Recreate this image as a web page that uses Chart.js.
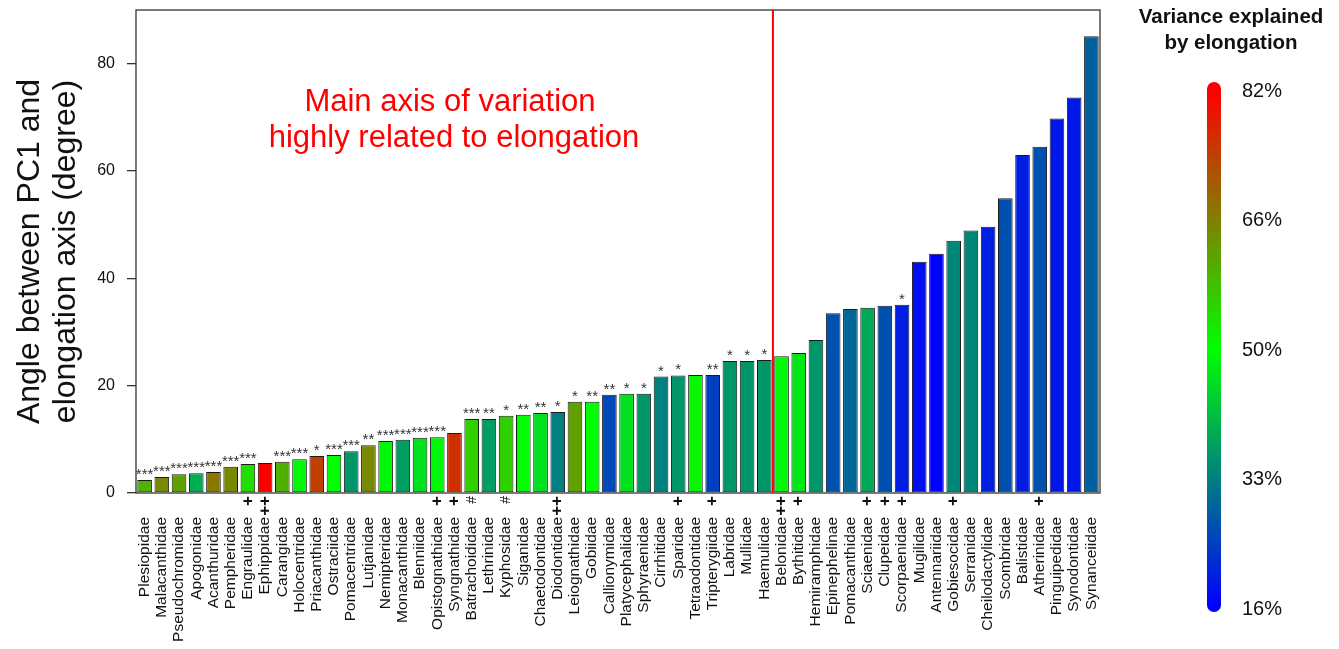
<!DOCTYPE html>
<html>
<head>
<meta charset="utf-8">
<script src="https://cdn.jsdelivr.net/npm/chart.js@4.4.1/dist/chart.umd.min.js"></script>
<style>
  html, body { margin: 0; padding: 0; background: #fff; }
  #wrap { width: 1339px; height: 649px; position: relative; }
</style>
</head>
<body>
<div id="wrap"><canvas id="angleChart"></canvas></div>
<script>
const families = [
  'Plesiopidae', 'Malacanthidae', 'Pseudochromidae', 'Apogonidae', 'Acanthuridae', 'Pempheridae',
  'Engraulidae', 'Ephippidae', 'Carangidae', 'Holocentridae', 'Priacanthidae', 'Ostraciidae',
  'Pomacentridae', 'Lutjanidae', 'Nemipteridae', 'Monacanthidae', 'Blenniidae', 'Opistognathidae',
  'Syngnathidae', 'Batrachoididae', 'Lethrinidae', 'Kyphosidae', 'Siganidae', 'Chaetodontidae',
  'Diodontidae', 'Leiognathidae', 'Gobiidae', 'Callionymidae', 'Platycephalidae', 'Sphyraenidae',
  'Cirrhitidae', 'Sparidae', 'Tetraodontidae', 'Tripterygiidae', 'Labridae', 'Mullidae',
  'Haemulidae', 'Belonidae', 'Bythitidae', 'Hemiramphidae', 'Epinephelinae', 'Pomacanthidae',
  'Sciaenidae', 'Clupeidae', 'Scorpaenidae', 'Mugilidae', 'Antennariidae', 'Gobiesocidae',
  'Serranidae', 'Cheilodactylidae', 'Scombridae', 'Balistidae', 'Atherinidae', 'Pinguipedidae',
  'Synodontidae', 'Synanceiidae'
];

// angle between PC1 and elongation axis (degree)
const angles = [
  2.4, 3.0, 3.5, 3.7, 3.9, 4.9, 5.4, 5.6, 5.8, 6.3, 6.9, 7.1,
  7.8, 8.9, 9.7, 9.9, 10.3, 10.4, 11.2, 13.8, 13.8, 14.4, 14.6, 14.9,
  15.1, 17.0, 17.0, 18.3, 18.5, 18.5, 21.7, 21.9, 22.0, 22.0, 24.6, 24.6,
  24.8, 25.5, 26.1, 28.5, 33.5, 34.3, 34.5, 34.9, 35.1, 43.1, 44.6, 47.0,
  48.9, 49.6, 54.9, 63.0, 64.5, 69.8, 73.7, 85.1
];

// variance explained by elongation (%)
const variance = [
  60, 65, 62, 39, 67, 65, 54, 82, 60, 49, 74, 50,
  36, 65, 49, 37, 46, 49, 76, 56, 37, 56, 50, 46,
  33, 62, 50, 25.6, 46, 36, 33, 36, 51, 24.5, 36, 36,
  36, 49, 47, 36, 26.6, 29.8, 38.5, 26.6, 20, 18, 16, 34,
  34, 20, 26.6, 20, 26.6, 19, 19, 28.8
];

const stars = [
  '***', '***', '***', '***', '***', '***', '***', '', '***', '***', '*', '***',
  '***', '**', '***', '***', '***', '***', '', '***', '**', '*', '**', '**',
  '*', '*', '**', '**', '*', '*', '*', '*', '', '**', '*', '*',
  '*', '', '', '', '', '', '', '', '*', '', '', '',
  '', '', '', '', '', '', '', ''
];

const marks = [
  '', '', '', '', '', '', '+', '++', '', '', '', '',
  '', '', '', '', '', '+', '+', '#', '', '#', '', '',
  '++', '', '', '', '', '', '', '+', '', '+', '', '',
  '', '++', '+', '', '', '', '+', '+', '+', '', '', '+',
  '', '', '', '', '+', '', '', ''
];

const scaleStops = [16, 33, 50, 66, 82];
const scaleLabels = ['82%', '66%', '50%', '33%', '16%'];
const stopColors = [[0, 0, 255], [0, 128, 128], [0, 255, 0], [128, 128, 0], [255, 0, 0]];

const note = ['Main axis of variation', 'highly related to elongation'];

function colourFor(v) {
  let k = 0;
  while (k < scaleStops.length - 2 && v > scaleStops[k + 1]) k++;
  const t = Math.max(0, Math.min(1, (v - scaleStops[k]) / (scaleStops[k + 1] - scaleStops[k])));
  const a = stopColors[k], b = stopColors[k + 1];
  const c = a.map((x, i) => Math.round(x + (b[i] - x) * t));
  return `rgb(${c[0]},${c[1]},${c[2]})`;
}

const FONT = "'Liberation Sans', Arial, sans-serif";

const extras = {
  id: 'extras',
  afterDatasetsDraw(chart) {
    const { ctx, chartArea: area, scales: { x } } = chart;
    const bars = chart.getDatasetMeta(0).data;
    ctx.save();

    // box
    ctx.strokeStyle = '#333';
    ctx.lineWidth = 1.3;
    ctx.strokeRect(area.left, area.top, area.right - area.left, area.bottom - area.top);

    // split line between Haemulidae and Belonidae
    const splitX = (x.getPixelForValue(36) + x.getPixelForValue(37)) / 2;
    ctx.strokeStyle = '#ff0000';
    ctx.lineWidth = 2;
    ctx.beginPath();
    ctx.moveTo(splitX, area.top);
    ctx.lineTo(splitX, area.bottom);
    ctx.stroke();

    // significance stars
    ctx.fillStyle = '#333';
    ctx.font = `15px ${FONT}`;
    ctx.textAlign = 'center';
    ctx.textBaseline = 'alphabetic';
    bars.forEach((bar, i) => {
      if (stars[i]) ctx.fillText(stars[i], bar.x, bar.y - 1);
    });

    // markers under the axis
    bars.forEach((bar, i) => {
      if (!marks[i]) return;
      ctx.save();
      ctx.translate(bar.x, area.bottom + 3);
      ctx.rotate(-Math.PI / 2);
      ctx.textAlign = 'right';
      ctx.textBaseline = 'middle';
      ctx.font = marks[i] === '#' ? `14px ${FONT}` : `bold 17px ${FONT}`;
      ctx.fillStyle = '#111';
      ctx.fillText(marks[i], 0, 0);
      ctx.restore();
    });

    // red note
    ctx.fillStyle = '#ff0000';
    ctx.font = `31px ${FONT}`;
    ctx.textAlign = 'center';
    ctx.textBaseline = 'middle';
    ctx.fillText(note[0], 450, 102);
    ctx.fillText(note[1], 454, 138);

    // colour scale
    const cx = 1214, y0 = 91, y1 = 607;
    const grad = ctx.createLinearGradient(0, y0, 0, y1);
    stopColors.slice().reverse().forEach((c, i) => {
      grad.addColorStop(i / (stopColors.length - 1), `rgb(${c[0]},${c[1]},${c[2]})`);
    });
    ctx.strokeStyle = grad;
    ctx.lineWidth = 14;
    ctx.lineCap = 'round';
    ctx.beginPath();
    ctx.moveTo(cx, y0 - 2);
    ctx.lineTo(cx, y1 - 2);
    ctx.stroke();

    ctx.fillStyle = '#111';
    ctx.font = `20px ${FONT}`;
    ctx.textAlign = 'left';
    scaleLabels.forEach((lab, i) => {
      ctx.fillText(lab, 1242, 91 + i * 129.5);
    });

    ctx.font = `bold 20.5px ${FONT}`;
    ctx.textAlign = 'center';
    ctx.fillText('Variance explained', 1231, 17);
    ctx.fillText('by elongation', 1231, 43);

    ctx.restore();
  }
};

new Chart(document.getElementById('angleChart'), {
  type: 'bar',
  data: {
    labels: families,
    datasets: [{
      data: angles,
      backgroundColor: variance.map(colourFor),
      borderColor: '#1a1a1a',
      borderWidth: 1,
      borderSkipped: false,
      barPercentage: 0.85,
      categoryPercentage: 1
    }]
  },
  options: {
    responsive: true,
    maintainAspectRatio: false,
    animation: false,
    layout: { padding: { top: 10, right: 239, left: 0, bottom: 0 } },
    plugins: {
      legend: { display: false },
      tooltip: { enabled: false }
    },
    scales: {
      x: {
        offset: true,
        grid: { display: false },
        border: { display: false },
        ticks: {
          autoSkip: false,
          minRotation: 90,
          maxRotation: 90,
          padding: 16,
          color: '#111',
          font: { family: FONT, size: 15.5 }
        },
        afterFit(scale) { scale.height = 156; }
      },
      y: {
        min: 0,
        max: 90,
        grid: { drawOnChartArea: false, tickLength: 9, color: '#333', lineWidth: 1.3 },
        border: { display: false },
        ticks: {
          stepSize: 20,
          padding: 12,
          color: '#111',
          font: { family: FONT, size: 16 }
        },
        afterBuildTicks(scale) {
          scale.ticks = scale.ticks.filter(t => t.value <= 80);
        },
        title: {
          display: true,
          text: ['Angle between PC1 and', 'elongation axis (degree)'],
          color: '#111',
          font: { family: FONT, size: 32, lineHeight: 1.125 },
          padding: { top: 12, bottom: 0 }
        },
        afterFit(scale) {
          scale.width = 136;
          scale.paddingTop = 0;
          scale.paddingBottom = 0;
        }
      }
    }
  },
  plugins: [extras]
});
</script>
</body>
</html>
